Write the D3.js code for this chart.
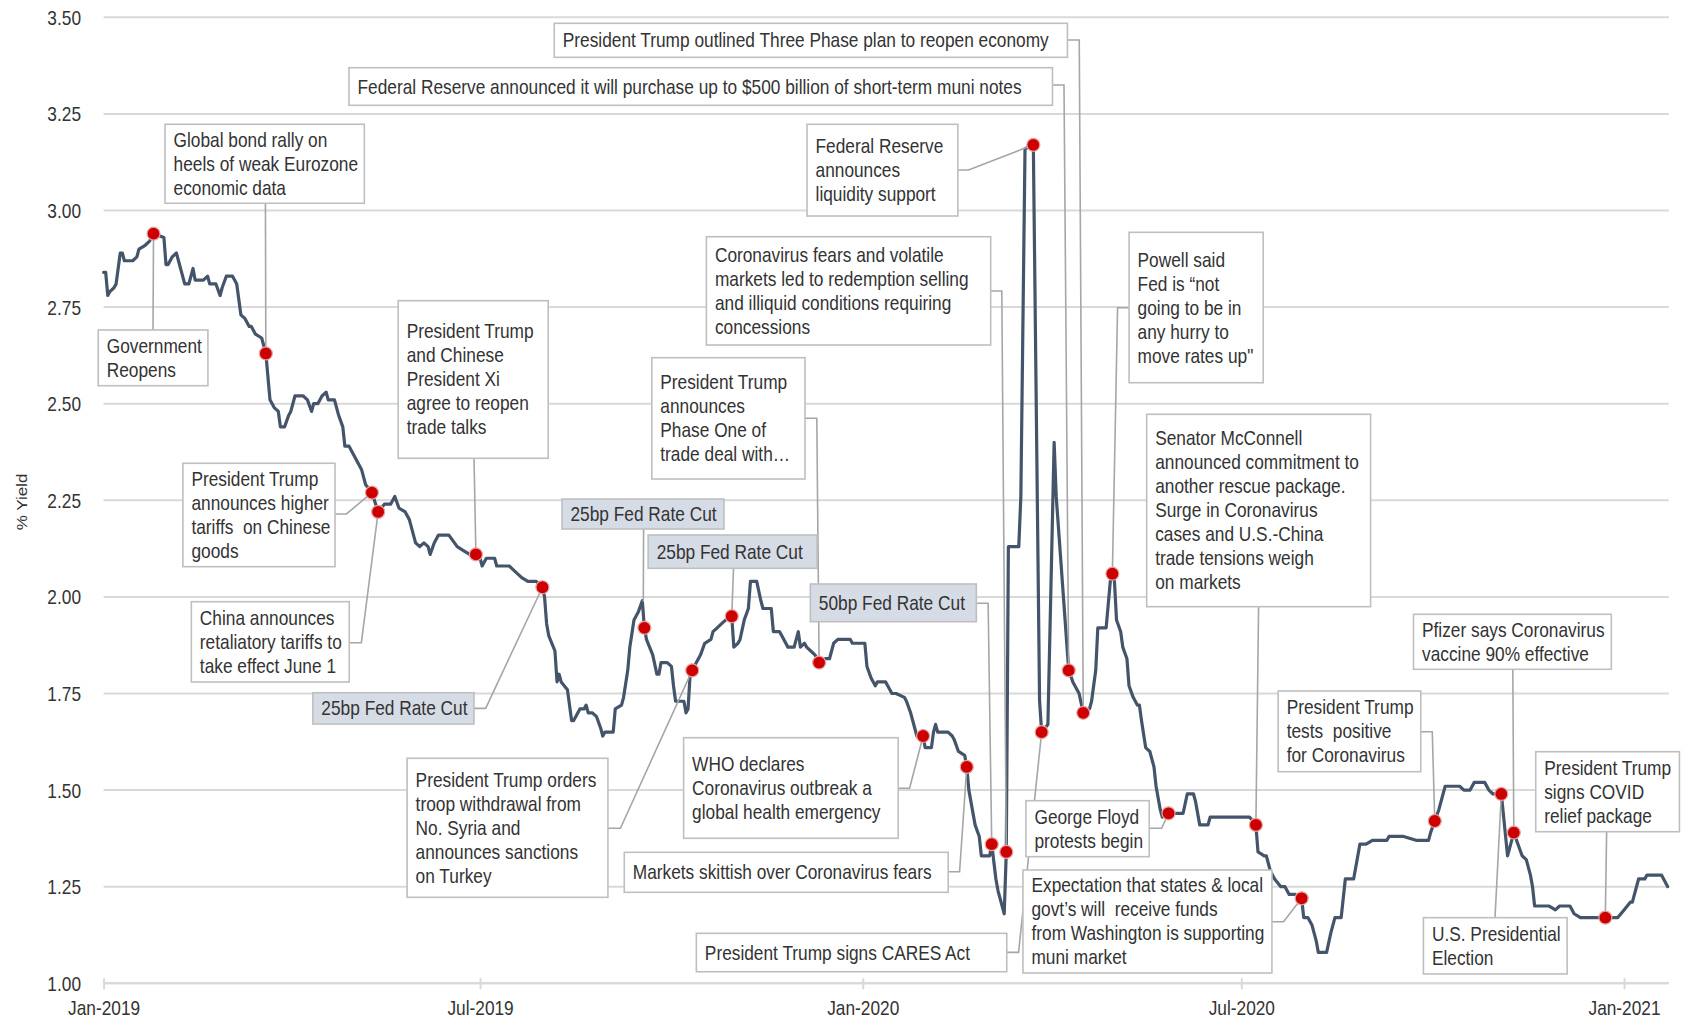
<!DOCTYPE html>
<html><head><meta charset="utf-8">
<script src="https://cdn.jsdelivr.net/npm/d3@7"></script>
<style>
html,body{margin:0;padding:0;background:#fff;}
svg text{font-family:'Liberation Sans',Arial,Helvetica,sans-serif;fill:#333;}
</style></head><body>
<svg id="chart" width="1691" height="1026"></svg>
<script>
// ---------------- DATA ----------------
const seriesDates = [
'2019-01-01','2019-01-02','2019-01-03','2019-01-04','2019-01-06','2019-01-07','2019-01-09','2019-01-10','2019-01-11','2019-01-15',
'2019-01-17','2019-01-18','2019-01-21','2019-01-23','2019-01-25','2019-01-30','2019-01-31','2019-02-01','2019-02-03','2019-02-05',
'2019-02-06','2019-02-09','2019-02-11','2019-02-13','2019-02-14','2019-02-18','2019-02-20','2019-02-21','2019-02-24','2019-02-26',
'2019-02-27','2019-03-01','2019-03-04','2019-03-06','2019-03-08','2019-03-10','2019-03-12','2019-03-13','2019-03-14','2019-03-15',
'2019-03-18','2019-03-19','2019-03-20','2019-03-22','2019-03-24','2019-03-26','2019-03-27','2019-03-29','2019-03-31','2019-04-01',
'2019-04-03','2019-04-07','2019-04-09','2019-04-11','2019-04-12','2019-04-14','2019-04-16','2019-04-18','2019-04-19','2019-04-22',
'2019-04-24','2019-04-26','2019-04-27','2019-04-29','2019-05-01','2019-05-03','2019-05-05','2019-05-07','2019-05-10','2019-05-13',
'2019-05-16','2019-05-19','2019-05-21','2019-05-23','2019-05-26','2019-05-28','2019-05-31','2019-06-02','2019-06-04','2019-06-06',
'2019-06-07','2019-06-09','2019-06-11','2019-06-16','2019-06-20','2019-06-23','2019-06-26','2019-06-29','2019-07-01','2019-07-02',
'2019-07-04','2019-07-08','2019-07-09','2019-07-12','2019-07-15','2019-07-17','2019-07-21','2019-07-24','2019-07-28','2019-07-31',
'2019-08-01','2019-08-02','2019-08-03','2019-08-06','2019-08-07','2019-08-08','2019-08-09','2019-08-12','2019-08-14','2019-08-15',
'2019-08-18','2019-08-20','2019-08-21','2019-08-22','2019-08-24','2019-08-26','2019-08-28','2019-08-29','2019-08-30','2019-09-03',
'2019-09-04','2019-09-07','2019-09-08','2019-09-10','2019-09-11','2019-09-13','2019-09-15','2019-09-17','2019-09-18','2019-09-19',
'2019-09-22','2019-09-24','2019-09-25','2019-09-26','2019-09-29','2019-10-01','2019-10-02','2019-10-03','2019-10-07','2019-10-08',
'2019-10-09','2019-10-10','2019-10-11','2019-10-15','2019-10-17','2019-10-20','2019-10-21','2019-10-23','2019-10-25','2019-10-27',
'2019-10-30','2019-10-31','2019-11-02','2019-11-03','2019-11-05','2019-11-07','2019-11-08','2019-11-11','2019-11-13','2019-11-14',
'2019-11-18','2019-11-19','2019-11-22','2019-11-23','2019-11-26','2019-11-29','2019-12-01','2019-12-02','2019-12-04','2019-12-05',
'2019-12-07','2019-12-09','2019-12-11','2019-12-14','2019-12-16','2019-12-18','2019-12-20','2019-12-26','2019-12-27','2020-01-02',
'2020-01-03','2020-01-05','2020-01-07','2020-01-08','2020-01-12','2020-01-15','2020-01-17','2020-01-21','2020-01-22','2020-01-24',
'2020-01-26','2020-01-27','2020-01-30','2020-01-31','2020-02-03','2020-02-04','2020-02-05','2020-02-06','2020-02-11','2020-02-13',
'2020-02-14','2020-02-16','2020-02-19','2020-02-20','2020-02-21','2020-02-24','2020-02-26','2020-02-27','2020-03-02','2020-03-03',
'2020-03-05','2020-03-06','2020-03-09','2020-03-10','2020-03-11','2020-03-16','2020-03-17','2020-03-19','2020-03-23','2020-03-26',
'2020-03-27','2020-03-30','2020-04-02','2020-04-03','2020-04-09','2020-04-11','2020-04-14','2020-04-16','2020-04-19','2020-04-20',
'2020-04-22','2020-04-23','2020-04-27','2020-04-28','2020-04-29','2020-04-30','2020-05-01','2020-05-02','2020-05-04','2020-05-05',
'2020-05-07','2020-05-08','2020-05-10','2020-05-12','2020-05-13','2020-05-14','2020-05-16','2020-05-18','2020-05-20','2020-05-21',
'2020-05-23','2020-05-24','2020-05-27','2020-05-31','2020-06-03','2020-06-05','2020-06-08','2020-06-09','2020-06-11','2020-06-15',
'2020-06-16','2020-07-05','2020-07-08','2020-07-09','2020-07-12','2020-07-13','2020-07-15','2020-07-17','2020-07-20','2020-07-22',
'2020-07-24','2020-07-27','2020-07-30','2020-07-31','2020-08-02','2020-08-04','2020-08-06','2020-08-07','2020-08-11','2020-08-13',
'2020-08-15','2020-08-18','2020-08-20','2020-08-24','2020-08-27','2020-08-30','2020-09-02','2020-09-09','2020-09-10','2020-09-17',
'2020-09-23','2020-09-29','2020-09-30','2020-10-02','2020-10-04','2020-10-07','2020-10-14','2020-10-16','2020-10-19','2020-10-21',
'2020-10-26','2020-10-28','2020-10-30','2020-11-03','2020-11-06','2020-11-07','2020-11-09','2020-11-11','2020-11-13','2020-11-15',
'2020-11-17','2020-11-18','2020-11-19','2020-11-26','2020-11-29','2020-12-01','2020-12-06','2020-12-08','2020-12-11','2020-12-14',
'2020-12-15','2020-12-19','2020-12-23','2020-12-29','2021-01-01','2021-01-04','2021-01-05','2021-01-08','2021-01-11','2021-01-12',
'2021-01-19','2021-01-22'
];
const seriesYields = [
2.84,2.84,2.78,2.79,2.80,2.81,2.89,2.89,2.87,2.87,
2.88,2.90,2.91,2.92,2.94,2.93,2.86,2.86,2.88,2.89,
2.87,2.81,2.81,2.85,2.82,2.82,2.83,2.81,2.81,2.78,
2.80,2.83,2.83,2.81,2.73,2.72,2.70,2.70,2.69,2.68,
2.67,2.65,2.63,2.51,2.49,2.48,2.44,2.44,2.47,2.48,
2.52,2.52,2.51,2.48,2.50,2.50,2.52,2.53,2.51,2.51,
2.47,2.44,2.39,2.39,2.37,2.35,2.33,2.29,2.27,2.22,
2.24,2.24,2.26,2.23,2.22,2.20,2.14,2.13,2.14,2.13,
2.11,2.14,2.16,2.16,2.13,2.12,2.11,2.11,2.10,2.08,
2.10,2.10,2.08,2.08,2.08,2.07,2.05,2.04,2.04,2.025,
2.00,1.93,1.90,1.86,1.78,1.80,1.78,1.76,1.68,1.68,
1.71,1.71,1.72,1.70,1.70,1.69,1.66,1.64,1.65,1.65,
1.71,1.72,1.74,1.81,1.87,1.94,1.96,1.99,1.92,1.89,
1.85,1.80,1.80,1.83,1.83,1.82,1.77,1.73,1.73,1.70,
1.71,1.80,1.81,1.85,1.88,1.89,1.91,1.92,1.93,1.94,
1.95,1.87,1.88,1.89,1.94,1.97,2.04,2.04,1.99,1.97,
1.97,1.91,1.91,1.90,1.87,1.87,1.91,1.87,1.88,1.87,
1.86,1.85,1.83,1.84,1.84,1.88,1.89,1.89,1.88,1.88,
1.82,1.79,1.77,1.78,1.78,1.75,1.75,1.74,1.73,1.70,
1.66,1.64,1.64,1.61,1.61,1.65,1.67,1.65,1.65,1.64,
1.63,1.60,1.59,1.56,1.50,1.41,1.38,1.33,1.33,1.36,
1.27,1.24,1.18,1.34,2.13,2.13,2.26,3.16,3.17,1.73,
1.65,1.67,2.40,2.26,1.81,1.78,1.75,1.70,1.71,1.73,
1.81,1.92,1.92,1.98,2.04,2.06,2.04,1.94,1.91,1.87,
1.84,1.77,1.74,1.72,1.72,1.68,1.61,1.60,1.56,1.51,
1.45,1.43,1.44,1.44,1.44,1.49,1.49,1.47,1.41,1.41,
1.43,1.43,1.41,1.34,1.33,1.33,1.29,1.27,1.25,1.25,
1.23,1.23,1.22,1.17,1.17,1.15,1.11,1.08,1.08,1.13,
1.17,1.17,1.27,1.27,1.36,1.36,1.37,1.37,1.38,1.38,
1.37,1.37,1.39,1.42,1.45,1.51,1.51,1.50,1.50,1.52,
1.52,1.50,1.49,1.49,1.33,1.35,1.39,1.36,1.33,1.32,
1.28,1.25,1.20,1.20,1.19,1.20,1.20,1.18,1.17,1.17,
1.17,1.17,1.17,1.17,1.19,1.21,1.21,1.27,1.27,1.28,
1.28,1.25
];

const eventDates = ['2019-01-25','2019-03-20','2019-05-10','2019-05-13','2019-06-29','2019-07-31','2019-09-18','2019-10-11',
  '2019-10-30','2019-12-11','2020-01-30','2020-02-20','2020-03-03','2020-03-10','2020-03-23','2020-03-27','2020-04-09',
  '2020-04-16','2020-04-30','2020-05-27','2020-07-08','2020-07-30','2020-10-02','2020-11-03','2020-11-09','2020-12-23'];
const eventYields = [2.94,2.63,2.27,2.22,2.11,2.025,1.92,1.81,1.95,1.83,1.64,1.56,1.36,1.34,3.17,1.65,1.81,1.70,2.06,1.44,
  1.41,1.22,1.42,1.49,1.39,1.17];
const eventLabels = [
  ['Government','Reopens'],
  ['Global bond rally on','heels of weak Eurozone','economic data'],
  ['President Trump','announces higher','tariffs  on Chinese','goods'],
  ['China announces','retaliatory tariffs to','take effect June 1'],
  ['President Trump','and Chinese','President Xi','agree to reopen','trade talks'],
  ['25bp Fed Rate Cut'],
  ['25bp Fed Rate Cut'],
  ['President Trump orders','troop withdrawal from','No. Syria and','announces sanctions','on Turkey'],
  ['25bp Fed Rate Cut'],
  ['President Trump','announces','Phase One of','trade deal with\u2026'],
  ['WHO declares','Coronavirus outbreak a','global health emergency'],
  ['Markets skittish over Coronavirus fears'],
  ['50bp Fed Rate Cut'],
  ['Coronavirus fears and volatile','markets led to redemption selling','and illiquid conditions requiring','concessions'],
  ['Federal Reserve','announces','liquidity support'],
  ['President Trump signs CARES Act'],
  ['Federal Reserve announced it will purchase up to $500 billion of short-term muni notes'],
  ['President Trump outlined Three Phase plan to reopen economy'],
  ['Powell said','Fed is \u201cnot','going to be in','any hurry to','move rates up"'],
  ['George Floyd','protests begin'],
  ['Senator McConnell','announced commitment to','another rescue package.','Surge in Coronavirus','cases and U.S.-China','trade tensions weigh','on markets'],
  ['Expectation that states & local','govt\u2019s will  receive funds','from Washington is supporting','muni market'],
  ['President Trump','tests  positive','for Coronavirus'],
  ['U.S. Presidential','Election'],
  ['Pfizer says Coronavirus','vaccine 90% effective'],
  ['President Trump','signs COVID','relief package']
];
const eventIsRateCut = [0,0,0,0,0,1,1,0,1,0,0,0,1,0,0,0,0,0,0,0,0,0,0,0,0,0];

const yTickValues = [1.00,1.25,1.50,1.75,2.00,2.25,2.50,2.75,3.00,3.25,3.50];
const xTickDates = ['2019-01-01','2019-07-01','2020-01-01','2020-07-01','2021-01-01'];
const xTickLabels = ['Jan-2019','Jul-2019','Jan-2020','Jul-2020','Jan-2021'];
const yAxisTitle = '% Yield';
const xDomain = ['2019-01-01','2021-01-23'];
const yDomain = [1.0, 3.5];

// ---------------- LAYOUT (pixel offsets of callout boxes from their marker) ----------------
const calloutLayout = [
  {dx:-55.3, dy:96.3, w:109.7, h:55.7, leader:[[-0.5,96.3],[0,0]]},
  {dx:-100.8,dy:-229.2,w:199.3,h:79, leader:[[-0.4,-150.2],[0,0]]},
  {dx:-189,  dy:-29.3, w:152.1,h:103.4,leader:[[-36.9,21.4],[-25.5,21.4],[0,0]]},
  {dx:-186.8,dy:89.8,  w:157.9,h:80.3, leader:[[-28.9,130.8],[-16.8,130.8],[0,0]]},
  {dx:-77.7, dy:-253.7,w:150,  h:157.6,leader:[[-1.9,-96.1],[0,0]]},
  {dx:-229.6,dy:105.5, w:161.1,h:31.3, leader:[[-68.5,121.1],[-56.8,121.1],[0,0]]},
  {dx:-82.4, dy:-128.8,w:162,  h:30,   leader:[[-0.8,-98.8],[-1.1,-26]]},
  {dx:-285.1,dy:88,    w:200.8,h:139,  leader:[[-84.3,158],[-71.8,158],[0,0]]},
  {dx:-83.6, dy:-81.2, w:168.9,h:33.3, leader:[[1.8,-47.9],[0,0]]},
  {dx:-167.3,dy:-304.9,w:153.2,h:121.3,leader:[[-14.1,-244.3],[-2.3,-244.3],[0,0]]},
  {dx:-239.5,dy:1.7,   w:214.6,h:100.6,leader:[[-24.9,52.3],[-13.5,52.3],[0,0]]},
  {dx:-342.5,dy:85.4,  w:323.9,h:40,   leader:[[-18.6,104.8],[-7.2,104.8],[0,0]]},
  {dx:-181.4,dy:-260.2,w:166,  h:37.7, leader:[[-15.4,-240.9],[-3.6,-240.9],[0,0]]},
  {dx:-299.9,dy:-615.2,w:284.3,h:108.3,leader:[[-15.6,-560.9],[-4.5,-560.9],[0,0]]},
  {dx:-226.3,dy:-20.5, w:150.8,h:91.7, leader:[[-75.5,25.2],[-64.8,25.2],[0,0]]},
  {dx:-345.3,dy:201.2, w:310.4,h:38.4, leader:[[-34.9,220.2],[-23.1,220.2],[0,0]]},
  {dx:-719.7,dy:-602.6,w:703.5,h:37.6, leader:[[-16.2,-585.3],[-4.7,-585.3],[0,0]]},
  {dx:-529,  dy:-689.5,w:513.2,h:34,   leader:[[-15.8,-672.8],[-4,-672.8],[0,0]]},
  {dx:16.7,  dy:-341.4,w:134.1,h:150.4,leader:[[16.7,-266],[5.2,-266],[0,0]]},
  {dx:-142.6,dy:-12.6, w:123.3,h:56,   leader:[[-19.3,15],[-6.9,15],[0,0]]},
  {dx:-109.2,dy:-410.6,w:223.9,h:192.4,leader:[[2.7,-218.2],[0,0]]},
  {dx:-278.7,dy:-28.3, w:249,  h:103,  leader:[[-29.7,23.4],[-18.1,23.4],[0,0]]},
  {dx:-156.6,dy:-130,  w:142.6,h:80.7, leader:[[-14,-89.3],[-2.5,-89.3],[0,0]]},
  {dx:-77.9, dy:123.7, w:143.7,h:56.3, leader:[[-6.3,123.7],[0,0]]},
  {dx:-100.3,dy:-218.3,w:197.8,h:55,   leader:[[-1,-163.3],[0,0]]},
  {dx:-69.6, dy:-165.9,w:143.7,h:80,   leader:[[1.3,-85.9],[0,0]]}
];

const FONT = 20, SQUISH = 0.865, LINE_H = 24, PAD_X = 8.5;
const plot = {left:103.6, right:1669.8, top:17.3, bottom:983.3};

// ---------------- DRAW ----------------
const parse = d3.timeParse('%Y-%m-%d');
const svg = d3.select('#chart');

const x = d3.scaleTime().domain(xDomain.map(parse)).range([plot.left, plot.right]);
const y = d3.scaleLinear().domain(yDomain).range([plot.bottom, plot.top]);

// gridlines
svg.append('g').selectAll('line').data(yTickValues).join('line')
  .attr('x1', plot.left).attr('x2', plot.right - 1)
  .attr('y1', d => y(d)).attr('y2', d => y(d))
  .attr('stroke', '#d9d9d9').attr('stroke-width', 2);

// y axis labels
const yAxis = svg.append('g').attr('transform', `translate(${plot.left},0)`)
  .call(d3.axisLeft(y).tickValues(yTickValues).tickFormat(d3.format('.2f')).tickSize(0));
yAxis.select('.domain').remove();
yAxis.selectAll('text')
  .attr('x', null).attr('dy', '0.35em')
  .attr('transform', `translate(-22.6,0) scale(${SQUISH},1)`)
  .style('font-size', FONT + 'px').style('fill', '#333').attr('text-anchor', 'end')
  .attr('font-family', null);

// x axis
const xAxis = svg.append('g').attr('transform', `translate(0,${plot.bottom})`)
  .call(d3.axisBottom(x).tickValues(xTickDates.map(parse))
    .tickFormat((d, i) => xTickLabels[i]).tickSizeOuter(0).tickSizeInner(6));
xAxis.select('.domain').attr('stroke', '#d9d9d9').attr('stroke-width', 2)
  .attr('d', `M${plot.left},0H${plot.right - 1}`);
xAxis.selectAll('.tick line').attr('stroke', '#d9d9d9').attr('stroke-width', 2).attr('y1', -5).attr('y2', 6);
xAxis.selectAll('.tick text').attr('y', 25).attr('dy', '0.35em')
  .attr('transform', `scale(${SQUISH},1)`)
  .style('font-size', FONT + 'px').style('fill', '#333');
xAxis.attr('font-family', null).attr('font-size', null);
yAxis.attr('font-family', null).attr('font-size', null);

// y axis title
svg.append('text')
  .attr('transform', `translate(21.7,502) rotate(-90) scale(1,${SQUISH})`)
  .attr('text-anchor', 'middle').attr('dy', '0.35em')
  .style('font-size', '17px').style('fill', '#333')
  .text(yAxisTitle);

// series line
const series = seriesDates.map((d, i) => ({date: parse(d), v: seriesYields[i]}));
svg.append('path').datum(series)
  .attr('fill', 'none').attr('stroke', '#44546a').attr('stroke-width', 3.2)
  .attr('stroke-linejoin', 'round').attr('stroke-linecap', 'round')
  .attr('d', d3.line().x(d => x(d.date)).y(d => y(d.v)));

// events
const events = eventDates.map((d, i) => ({
  mx: x(parse(d)), my: y(eventYields[i]), lines: eventLabels[i], rate: eventIsRateCut[i], lay: calloutLayout[i]
}));

// leaders
svg.append('g').selectAll('path').data(events).join('path')
  .attr('fill', 'none').attr('stroke', '#a6a6a6').attr('stroke-width', 1.6)
  .attr('d', e => d3.line()(e.lay.leader.map(p => [e.mx + p[0], e.my + p[1]])));

// boxes
const boxes = svg.append('g').selectAll('g').data(events).join('g')
  .attr('transform', e => `translate(${e.mx + e.lay.dx},${e.my + e.lay.dy})`);
boxes.append('rect')
  .attr('width', e => e.lay.w).attr('height', e => e.lay.h)
  .attr('fill', e => e.rate ? '#d6dce5' : '#ffffff')
  .attr('stroke', '#bfbfbf').attr('stroke-width', 1.6);
boxes.each(function(e) {
  const g = d3.select(this);
  const n = e.lines.length;
  const cy = e.lay.h / 2;
  e.lines.forEach((t, k) => {
    const ly = cy + (k - (n - 1) / 2) * LINE_H;
    g.append('text')
      .attr('transform', `translate(${PAD_X},${ly}) scale(${SQUISH},1)`)
      .attr('dy', '0.35em').style('font-size', FONT + 'px').style('white-space', 'pre')
      .attr('xml:space', 'preserve')
      .text(t);
  });
});

// markers
svg.append('g').selectAll('circle').data(events).join('circle')
  .attr('cx', e => e.mx).attr('cy', e => e.my).attr('r', 6.5)
  .attr('fill', '#cc0000').attr('stroke', '#e9a3a3').attr('stroke-width', 1.2);
</script>
</body></html>
